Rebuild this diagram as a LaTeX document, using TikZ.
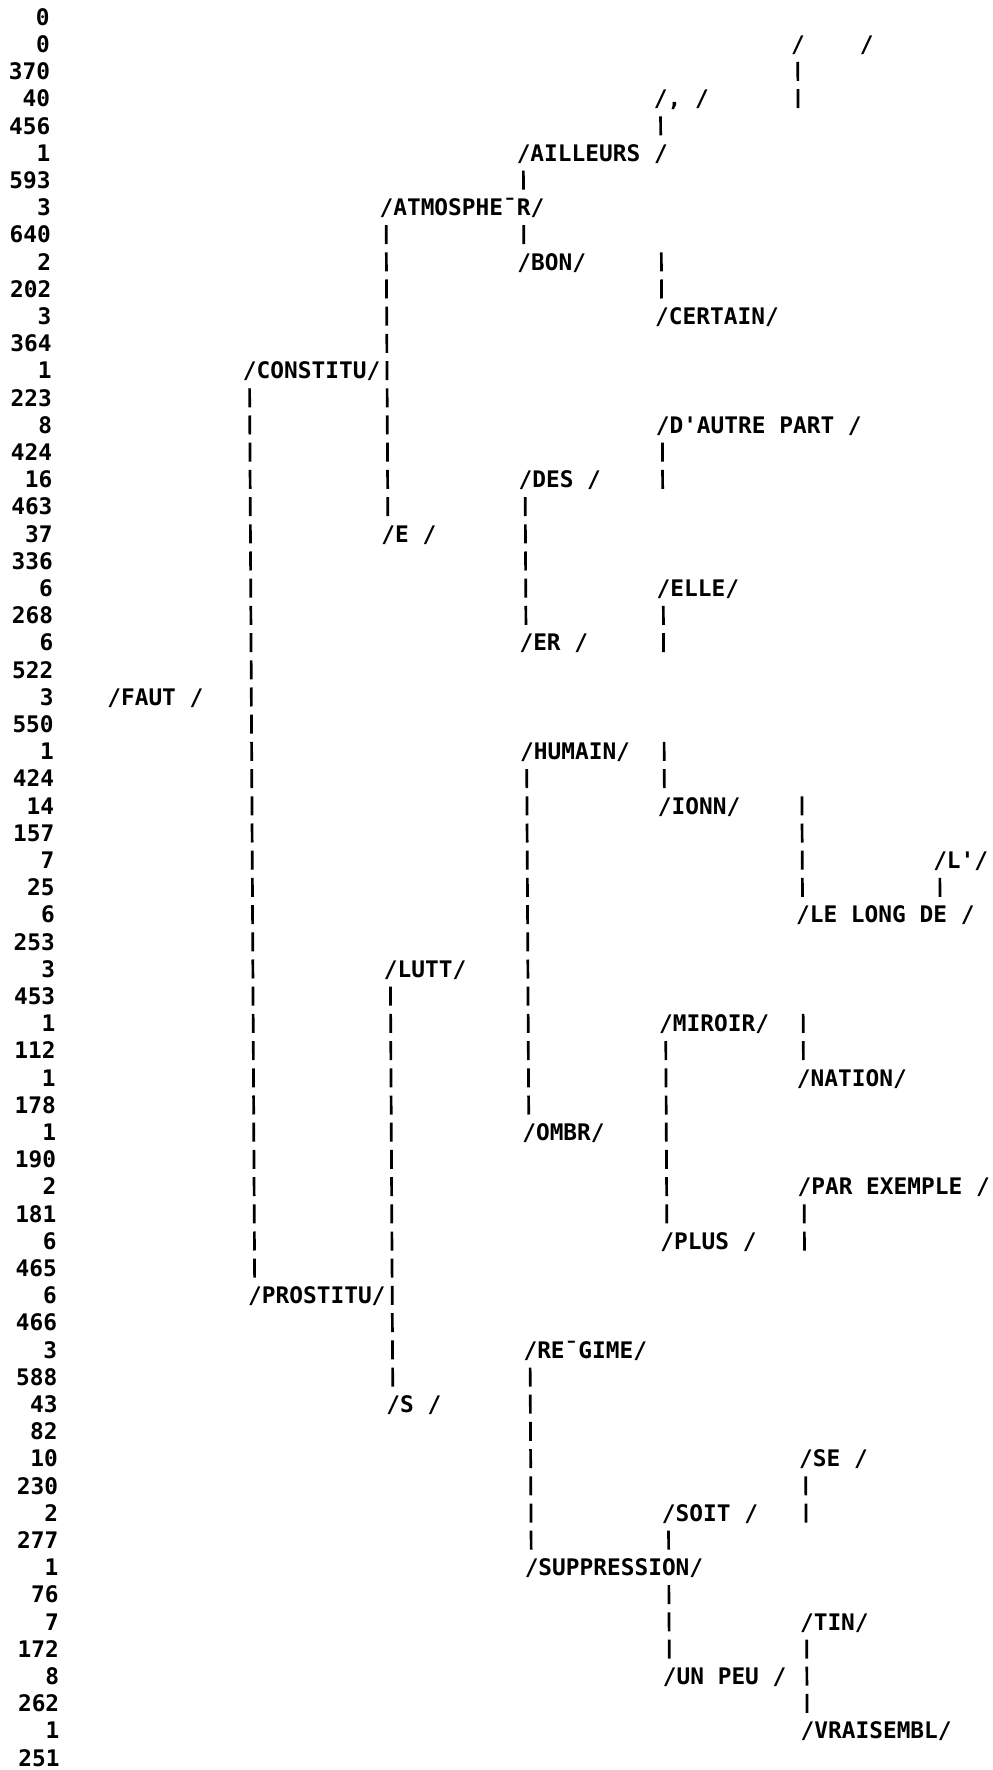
\documentclass[tikz,border=0pt]{standalone}
\usepackage{fontspec}
\newfontfamily\lpfont{DejaVu Sans Mono}
\usetikzlibrary{calc}

\tikzset{
  lab/.style={anchor=west, inner sep=0pt, text height=8.3pt, text depth=0pt,
    font=\lpfont\bfseries\fontsize{11.4}{11.4}\selectfont},
  num/.style={lab, anchor=east},
  vl/.style={line width=1.35pt, dash pattern=on 9.5pt off 4.1pt,
    shorten <=8.85pt, shorten >=8.85pt},
  keepstart/.style={shorten <=-4.75pt},
  keepend/.style={shorten >=-4.75pt},
}

\begin{document}
\begin{tikzpicture}[x=0.5pt, y=-0.5pt]
\useasboundingbox (0,0) rectangle (992,1770);
\begin{scope}[xslant=-0.00565]
% left margin: count and total, one number per half line
\foreach \v [count=\i from 0] in {0,0,370,40,456,1,593,3,640,2,202,3,364,1,223,8,424,16,463,37,336,6,268,6,522,3,550,1,424,14,157,7,25,6,253,3,453,1,112,1,178,1,190,2,181,6,465,6,466,3,588,43,82,10,230,2,277,1,76,7,172,8,262,1,251}
  \node[num] (n\i) at (50, {17+27.2*\i}) {\v};

% the tree, one word per line, root in the left column
\node[lab] (blk) at (790.5, 44.2) {/~~~~/};
\node[lab] (com) at (653, 98.6) {/,~/};
\node[lab] (ail) at (515.5, 153) {/AILLEURS~/};
\node[lab] (atm) at (378, 207.4) {/ATMOSPHE¯R/};
\node[lab] (bon) at (515.5, 261.8) {/BON/};
\node[lab] (cer) at (653, 316.2) {/CERTAIN/};
\node[lab] (con) at (240.5, 370.6) {/CONSTITU/};
\node[lab] (dap) at (653, 425) {/D\textquotesingle AUTRE~PART~/};
\node[lab] (des) at (515.5, 479.4) {/DES~/};
\node[lab] (ee) at (378, 533.8) {/E~/};
\node[lab] (ell) at (653, 588.2) {/ELLE/};
\node[lab] (er) at (515.5, 642.6) {/ER~/};
\node[lab] (fau) at (103, 697) {/FAUT~/};
\node[lab] (hum) at (515.5, 751.4) {/HUMAIN/};
\node[lab] (ion) at (653, 805.8) {/IONN/};
\node[lab] (lap) at (928, 860.2) {/L\textquotesingle/};
\node[lab] (llo) at (790.5, 914.6) {/LE~LONG~DE~/};
\node[lab] (lut) at (378, 969) {/LUTT/};
\node[lab] (mir) at (653, 1023.4) {/MIROIR/};
\node[lab] (nat) at (790.5, 1077.8) {/NATION/};
\node[lab] (omb) at (515.5, 1132.2) {/OMBR/};
\node[lab] (pex) at (790.5, 1186.6) {/PAR~EXEMPLE~/};
\node[lab] (plu) at (653, 1241) {/PLUS~/};
\node[lab] (pro) at (240.5, 1295.4) {/PROSTITU/};
\node[lab] (reg) at (515.5, 1349.8) {/RE¯GIME/};
\node[lab] (ss) at (378, 1404.2) {/S~/};
\node[lab] (se) at (790.5, 1458.6) {/SE~/};
\node[lab] (soi) at (653, 1513) {/SOIT~/};
\node[lab] (sup) at (515.5, 1567.4) {/SUPPRESSION/};
\node[lab] (tin) at (790.5, 1621.8) {/TIN/};
\node[lab] (unp) at (653, 1676.2) {/UN~PEU~/};
\node[lab] (vra) at (790.5, 1730.6) {/VRAISEMBL/};

% two children: bar between them
\draw[vl] ([xshift=3.45pt]con.west) -- ([xshift=3.45pt]pro.west);
\draw[vl] ([xshift=3.45pt]atm.west) -- ([xshift=3.45pt]ee.west);
\draw[vl] ([xshift=3.45pt]lut.west) -- ([xshift=3.45pt]ss.west);
\draw[vl] ([xshift=3.45pt]ail.west) -- ($(ail.west |- atm.west)+(3.45pt,0)$);
\draw[vl] ($(bon.west |- atm.west)+(3.45pt,0)$) -- ([xshift=3.45pt]bon.west);
\draw[vl] ([xshift=3.45pt]des.west) -- ([xshift=3.45pt]er.west);
\draw[vl] ([xshift=3.45pt]hum.west) -- ([xshift=3.45pt]omb.west);
\draw[vl] ([xshift=3.45pt]reg.west) -- ([xshift=3.45pt]sup.west);
\draw[vl] ([xshift=3.45pt]mir.west) -- ([xshift=3.45pt]plu.west);
\draw[vl] ([xshift=3.45pt]soi.west) -- ($(soi.west |- sup.west)+(3.45pt,0)$);
\draw[vl] ($(unp.west |- sup.west)+(3.45pt,0)$) -- ([xshift=3.45pt]unp.west);
\draw[vl] ([xshift=3.45pt]tin.west) -- ([xshift=3.45pt]vra.west);

% one child: bar up to the parent's line
\draw[vl] ([xshift=3.45pt]com.west) -- ($(com.west |- ail.west)+(3.45pt,0)$);
\draw[vl, keepend] ([xshift=3.45pt]blk.west) -- ($(blk.west |- com.west)+(3.45pt,0)$);
\draw[vl, keepstart] ($(cer.west |- bon.west)+(3.45pt,0)$) -- ([xshift=3.45pt]cer.west);
\draw[vl, keepend] ([xshift=3.45pt]dap.west) -- ($(dap.west |- des.west)+(3.45pt,0)$);
\draw[vl, keepend] ([xshift=3.45pt]ell.west) -- ($(ell.west |- er.west)+(3.45pt,0)$);
\draw[vl, keepstart] ($(ion.west |- hum.west)+(3.45pt,0)$) -- ([xshift=3.45pt]ion.west);
\draw[vl, keepstart] ($(llo.west |- ion.west)+(3.45pt,0)$) -- ([xshift=3.45pt]llo.west);
\draw[vl] ([xshift=3.45pt]lap.west) -- ($(lap.west |- llo.west)+(3.45pt,0)$);
\draw[vl, keepstart] ($(nat.west |- mir.west)+(3.45pt,0)$) -- ([xshift=3.45pt]nat.west);
\draw[vl, keepend] ([xshift=3.45pt]pex.west) -- ($(pex.west |- plu.west)+(3.45pt,0)$);
\draw[vl, keepend] ([xshift=3.45pt]se.west) -- ($(se.west |- soi.west)+(3.45pt,0)$);
\end{scope}
\end{tikzpicture}
\end{document}
